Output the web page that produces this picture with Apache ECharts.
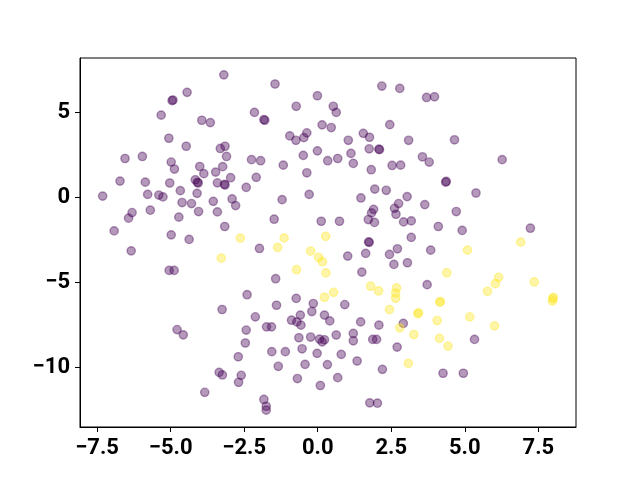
<!DOCTYPE html>
<html>
<head>
<meta charset="utf-8">
<script src="https://cdn.jsdelivr.net/npm/echarts@6/dist/echarts.min.js"></script>
<style>
  html, body { margin: 0; padding: 0; background: #fff; }
  #chart { width: 640px; height: 480px; }
</style>
</head>
<body>
<div id="chart"></div>
<script>
// tick positions and labels
var xTicks = [-7.5, -5, -2.5, 0, 2.5, 5, 7.5];
var xTickLabels = ['\u22127.5', '\u22125.0', '\u22122.5', '0.0', '2.5', '5.0', '7.5'];
var yTicks = [-10, -5, 0, 5];
var yTickLabels = ['\u221210', '\u22125', '0', '5'];

// class 0 (dark purple) points, [x, y]
var purplePoints = [
    [-3.19, 7.22], [-4.44, 6.19], [-4.95, 5.70], [-4.92, 5.74], [-5.32, 4.85], [-3.94, 4.55],
    [-3.65, 4.41], [-5.06, 3.49], [-4.47, 3.02], [-3.31, 2.89], [-3.15, 3.02], [-3.10, 2.42],
    [-6.55, 2.30], [-5.96, 2.42], [-4.98, 2.09], [-4.87, 1.68], [-4.01, 1.83], [-3.87, 1.41],
    [-3.47, 1.50], [-3.23, 1.82], [-2.96, 1.17], [-6.72, 0.97], [-5.86, 0.91], [-5.03, 0.86],
    [-4.16, 1.05], [-4.09, 0.90], [-4.06, 0.86], [-3.41, 0.87], [-3.17, 0.78], [-3.15, 0.74],
    [-2.43, 0.60], [-7.31, 0.09], [-5.78, 0.19], [-5.40, 0.15], [-5.26, 0.04], [-4.67, 0.41],
    [-4.10, 0.25], [-4.61, -0.29], [-4.29, -0.35], [-3.55, -0.22], [-2.91, -0.08], [-2.79, -0.47],
    [-6.31, -0.88], [-6.43, -1.21], [-5.69, -0.74], [-4.72, -1.15], [-4.05, -0.82], [-3.41, -0.84],
    [-6.92, -1.96], [-3.16, -1.70], [-4.98, -2.19], [-4.37, -2.46], [-6.34, -3.13], [-5.05, -4.28],
    [-4.88, -4.28], [-2.40, -5.71], [-3.25, -6.58], [-4.78, -7.76], [-4.57, -8.07], [-2.43, -7.79],
    [-2.46, -8.55], [-2.70, -9.36], [-3.35, -10.28], [-3.24, -10.43], [-2.60, -10.45], [-2.69, -10.86],
    [-3.84, -11.45],
    [-1.45, 6.68], [2.18, 6.56], [2.79, 6.42], [-0.01, 5.99], [-2.15, 5.01], [-1.83, 4.59],
    [-1.80, 4.55], [-0.73, 5.37], [0.53, 5.37], [0.63, 5.01], [2.45, 4.29], [0.15, 4.28],
    [0.46, 4.12], [-0.95, 3.63], [-0.74, 3.37], [-0.47, 3.53], [-0.37, 3.81], [1.55, 3.78],
    [1.76, 3.55], [1.04, 3.37], [3.09, 3.37], [1.75, 2.87], [2.08, 2.85], [2.10, 2.82],
    [-0.01, 2.75], [-0.49, 2.48], [1.13, 2.60], [-2.25, 2.23], [-1.94, 2.17], [-1.17, 1.91],
    [0.34, 2.17], [0.68, 2.30], [1.21, 2.01], [2.53, 1.89], [2.82, 1.91], [1.82, 1.64],
    [-0.37, 1.46], [-2.09, 1.19],
    [3.70, 5.89], [3.97, 5.93], [4.65, 3.40], [3.56, 2.40], [3.79, 2.09], [6.27, 2.23],
    [4.35, 0.91], [4.37, 0.95],
    [-0.29, 0.19], [-1.21, -0.12], [1.47, -0.02], [1.94, 0.50], [2.33, 0.43], [3.04, 0.06],
    [2.75, -0.35], [2.61, -0.63], [2.66, -0.98], [1.90, -0.69], [1.83, -0.90], [1.72, -1.29],
    [1.93, -1.46], [2.92, -1.43], [3.18, -1.37], [-1.48, -1.27], [0.12, -1.39], [0.74, -1.39],
    [3.18, -2.34], [1.73, -2.60], [1.75, -2.63], [-1.98, -2.99], [1.02, -3.44], [1.63, -3.28],
    [2.44, -3.34], [2.71, -3.01], [2.59, -3.93], [3.05, -3.83], [1.50, -4.38], [-1.43, -4.77],
    [-0.73, -5.93], [-1.40, -6.33], [-0.15, -6.23], [0.92, -6.29],
    [5.38, 0.27], [3.64, -0.41], [4.71, -0.82], [4.10, -1.70], [4.91, -1.93], [7.23, -1.80],
    [3.84, -3.09], [3.72, -5.12],
    [-2.12, -7.01], [-0.20, -6.70], [-0.59, -6.91], [-0.89, -7.21], [-0.71, -7.31], [-0.57, -7.50],
    [0.23, -6.91], [0.41, -7.25], [1.46, -7.31], [2.08, -7.50], [2.91, -7.40], [-1.74, -7.60],
    [-1.57, -7.60], [-0.64, -8.24], [-0.24, -8.20], [0.06, -8.32], [0.23, -8.36], [0.15, -8.48],
    [0.63, -8.08], [1.21, -7.99], [1.21, -8.42], [1.87, -8.34], [2.00, -8.34], [2.70, -8.79],
    [-1.56, -9.06], [-1.10, -9.06], [-0.53, -8.89], [-0.02, -9.16], [0.80, -9.22], [-1.34, -9.92],
    [-0.43, -9.81], [0.33, -9.82], [1.34, -9.61], [2.20, -10.10], [-0.69, -10.64], [0.68, -10.59],
    [0.09, -11.05], [-1.83, -11.87], [-1.75, -12.27], [-1.75, -12.50], [1.77, -12.07], [2.03, -12.09],
    [5.33, -8.34], [4.26, -10.33], [4.95, -10.33]
];

// class 1 (yellow) points, [x, y]
var yellowPoints = [
    [-2.63, -2.38], [-3.28, -3.56], [-1.14, -2.37], [0.27, -2.28], [-1.36, -2.93], [-0.24, -3.15],
    [0.03, -3.51], [0.16, -3.77], [-0.72, -4.24], [0.28, -4.43], [1.80, -5.21], [2.07, -5.49],
    [2.68, -5.31], [2.65, -5.61], [2.65, -5.92], [0.54, -5.57], [0.23, -5.86], [6.90, -2.62],
    [5.09, -3.09], [4.39, -4.42], [6.15, -4.69], [6.04, -5.06], [7.36, -4.96], [5.77, -5.51],
    [4.15, -6.15], [4.17, -6.12], [8.01, -5.86], [7.98, -6.09], [7.99, -5.95], [2.44, -6.58],
    [3.40, -6.82], [3.43, -6.78], [4.06, -7.23], [5.17, -7.01], [6.01, -7.54], [2.79, -7.66],
    [3.27, -8.05], [4.14, -8.28], [4.43, -8.73], [3.08, -9.75]
];

var labelFont = {
    color: '#000',
    fontFamily: 'Roboto',
    fontWeight: 'bold',
    fontSize: 22,
    margin: 10
};

var chart = echarts.init(document.getElementById('chart'), null, { renderer: 'canvas' });

var option = {
    animation: false,
    backgroundColor: '#fff',
    grid: {
        left: 80, right: 64, top: 58, bottom: 53,
        show: true, borderColor: '#000', borderWidth: 1, backgroundColor: 'transparent'
    },
    xAxis: {
        type: 'value',
        min: -8.08,
        max: 8.78,
        splitLine: { show: false },
        axisLine: { show: true, onZero: false, lineStyle: { color: '#000', width: 1 } },
        axisTick: { show: true, length: 5, customValues: xTicks, lineStyle: { color: '#000' } },
        axisLabel: Object.assign({}, labelFont, {
            customValues: xTicks,
            formatter: function(v) {
                var i = xTicks.indexOf(v);
                return i >= 0 ? xTickLabels[i] : '';
            }
        })
    },
    yAxis: {
        type: 'value',
        min: -13.49,
        max: 8.21,
        splitLine: { show: false },
        axisLine: { show: true, onZero: false, lineStyle: { color: '#000', width: 1 } },
        axisTick: { show: true, length: 5, customValues: yTicks, lineStyle: { color: '#000' } },
        axisLabel: Object.assign({}, labelFont, {
            customValues: yTicks,
            formatter: function(v) {
                var i = yTicks.indexOf(v);
                return i >= 0 ? yTickLabels[i] : '';
            }
        })
    },
    series: [{
            name: 'class0',
            type: 'scatter',
            data: purplePoints,
            symbolSize: 8.3,
            itemStyle: { color: '#440154', borderColor: '#440154', borderWidth: 1.4, opacity: 0.4 }
        },
        {
            name: 'class1',
            type: 'scatter',
            data: yellowPoints,
            symbolSize: 8.3,
            itemStyle: { color: '#fde725', borderColor: '#fde725', borderWidth: 1.4, opacity: 0.4 }
        }
    ]
};
chart.setOption(option);
</script>
</body>
</html>
